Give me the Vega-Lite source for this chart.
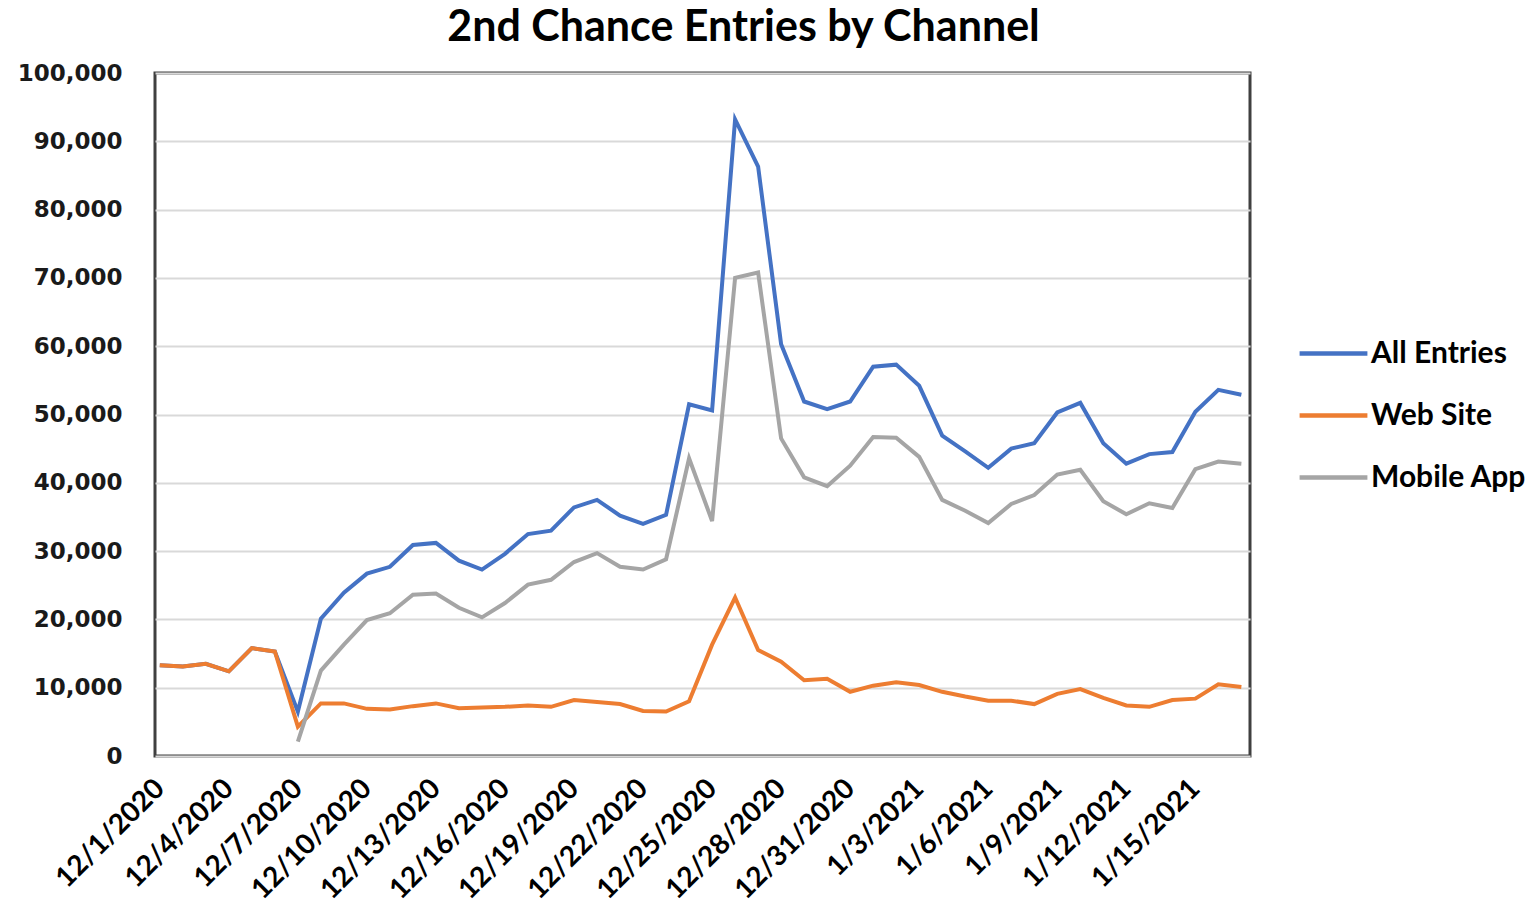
{
  "$schema": "https://vega.github.io/schema/vega-lite/v6.json",
  "width": 1095,
  "height": 683,
  "autosize": {"type": "none"},
  "padding": {"left": 155, "top": 73, "right": 281, "bottom": 159},
  "background": "white",
  "title": {"text": "2nd Chance Entries by Channel", "font": "Lato", "fontSize": 43, "fontWeight": "bold", "color": "#000000", "anchor": "middle", "offset": 12, "dx": 41},
  "config": {"view": {"stroke": "#404040", "strokeWidth": 3}},
  "data": {"values": [
    {"date": "2020-12-01T00:00:00", "All Entries": 13300, "Web Site": 13300, "Mobile App": null},
    {"date": "2020-12-02T00:00:00", "All Entries": 13100, "Web Site": 13100, "Mobile App": null},
    {"date": "2020-12-03T00:00:00", "All Entries": 13500, "Web Site": 13500, "Mobile App": null},
    {"date": "2020-12-04T00:00:00", "All Entries": 12400, "Web Site": 12400, "Mobile App": null},
    {"date": "2020-12-05T00:00:00", "All Entries": 15800, "Web Site": 15800, "Mobile App": null},
    {"date": "2020-12-06T00:00:00", "All Entries": 15300, "Web Site": 15300, "Mobile App": null},
    {"date": "2020-12-07T00:00:00", "All Entries": 6500, "Web Site": 4300, "Mobile App": 2100},
    {"date": "2020-12-08T00:00:00", "All Entries": 20100, "Web Site": 7700, "Mobile App": 12500},
    {"date": "2020-12-09T00:00:00", "All Entries": 23900, "Web Site": 7700, "Mobile App": 16300},
    {"date": "2020-12-10T00:00:00", "All Entries": 26700, "Web Site": 6900, "Mobile App": 19900},
    {"date": "2020-12-11T00:00:00", "All Entries": 27700, "Web Site": 6800, "Mobile App": 20900},
    {"date": "2020-12-12T00:00:00", "All Entries": 30900, "Web Site": 7300, "Mobile App": 23600},
    {"date": "2020-12-13T00:00:00", "All Entries": 31200, "Web Site": 7700, "Mobile App": 23800},
    {"date": "2020-12-14T00:00:00", "All Entries": 28600, "Web Site": 7000, "Mobile App": 21700},
    {"date": "2020-12-15T00:00:00", "All Entries": 27300, "Web Site": 7100, "Mobile App": 20300},
    {"date": "2020-12-16T00:00:00", "All Entries": 29600, "Web Site": 7200, "Mobile App": 22400},
    {"date": "2020-12-17T00:00:00", "All Entries": 32500, "Web Site": 7400, "Mobile App": 25100},
    {"date": "2020-12-18T00:00:00", "All Entries": 33000, "Web Site": 7200, "Mobile App": 25800},
    {"date": "2020-12-19T00:00:00", "All Entries": 36400, "Web Site": 8200, "Mobile App": 28400},
    {"date": "2020-12-20T00:00:00", "All Entries": 37500, "Web Site": 7900, "Mobile App": 29700},
    {"date": "2020-12-21T00:00:00", "All Entries": 35200, "Web Site": 7600, "Mobile App": 27700},
    {"date": "2020-12-22T00:00:00", "All Entries": 34000, "Web Site": 6600, "Mobile App": 27300},
    {"date": "2020-12-23T00:00:00", "All Entries": 35300, "Web Site": 6500, "Mobile App": 28800},
    {"date": "2020-12-24T00:00:00", "All Entries": 51500, "Web Site": 8000, "Mobile App": 43600},
    {"date": "2020-12-25T00:00:00", "All Entries": 50600, "Web Site": 16300, "Mobile App": 34400},
    {"date": "2020-12-26T00:00:00", "All Entries": 93200, "Web Site": 23200, "Mobile App": 70000},
    {"date": "2020-12-27T00:00:00", "All Entries": 86300, "Web Site": 15500, "Mobile App": 70800},
    {"date": "2020-12-28T00:00:00", "All Entries": 60300, "Web Site": 13800, "Mobile App": 46500},
    {"date": "2020-12-29T00:00:00", "All Entries": 51900, "Web Site": 11100, "Mobile App": 40800},
    {"date": "2020-12-30T00:00:00", "All Entries": 50800, "Web Site": 11300, "Mobile App": 39500},
    {"date": "2020-12-31T00:00:00", "All Entries": 51900, "Web Site": 9400, "Mobile App": 42500},
    {"date": "2021-01-01T00:00:00", "All Entries": 57000, "Web Site": 10300, "Mobile App": 46700},
    {"date": "2021-01-02T00:00:00", "All Entries": 57300, "Web Site": 10800, "Mobile App": 46600},
    {"date": "2021-01-03T00:00:00", "All Entries": 54200, "Web Site": 10400, "Mobile App": 43800},
    {"date": "2021-01-04T00:00:00", "All Entries": 46900, "Web Site": 9400, "Mobile App": 37500},
    {"date": "2021-01-05T00:00:00", "All Entries": 44600, "Web Site": 8700, "Mobile App": 35900},
    {"date": "2021-01-06T00:00:00", "All Entries": 42200, "Web Site": 8100, "Mobile App": 34100},
    {"date": "2021-01-07T00:00:00", "All Entries": 45000, "Web Site": 8100, "Mobile App": 36900},
    {"date": "2021-01-08T00:00:00", "All Entries": 45800, "Web Site": 7600, "Mobile App": 38200},
    {"date": "2021-01-09T00:00:00", "All Entries": 50300, "Web Site": 9100, "Mobile App": 41200},
    {"date": "2021-01-10T00:00:00", "All Entries": 51700, "Web Site": 9800, "Mobile App": 41900},
    {"date": "2021-01-11T00:00:00", "All Entries": 45800, "Web Site": 8500, "Mobile App": 37300},
    {"date": "2021-01-12T00:00:00", "All Entries": 42800, "Web Site": 7400, "Mobile App": 35400},
    {"date": "2021-01-13T00:00:00", "All Entries": 44200, "Web Site": 7200, "Mobile App": 37000},
    {"date": "2021-01-14T00:00:00", "All Entries": 44500, "Web Site": 8200, "Mobile App": 36300},
    {"date": "2021-01-15T00:00:00", "All Entries": 50400, "Web Site": 8400, "Mobile App": 42000},
    {"date": "2021-01-16T00:00:00", "All Entries": 53600, "Web Site": 10500, "Mobile App": 43100},
    {"date": "2021-01-17T00:00:00", "All Entries": 52900, "Web Site": 10100, "Mobile App": 42800}
  ]},
  "transform": [{"fold": ["All Entries", "Web Site", "Mobile App"], "as": ["channel", "entries"]}],
  "encoding": {
    "x": {
      "field": "date", "type": "temporal",
      "scale": {"domain": [{"year": 2020, "month": 11, "date": 30, "hours": 19}, {"year": 2021, "month": 1, "date": 17, "hours": 9}]},
      "axis": {
        "values": [
          {"year": 2020, "month": 12, "date": 1}, {"year": 2020, "month": 12, "date": 4}, {"year": 2020, "month": 12, "date": 7},
          {"year": 2020, "month": 12, "date": 10}, {"year": 2020, "month": 12, "date": 13}, {"year": 2020, "month": 12, "date": 16},
          {"year": 2020, "month": 12, "date": 19}, {"year": 2020, "month": 12, "date": 22}, {"year": 2020, "month": 12, "date": 25},
          {"year": 2020, "month": 12, "date": 28}, {"year": 2020, "month": 12, "date": 31}, {"year": 2021, "month": 1, "date": 3},
          {"year": 2021, "month": 1, "date": 6}, {"year": 2021, "month": 1, "date": 9}, {"year": 2021, "month": 1, "date": 12},
          {"year": 2021, "month": 1, "date": 15}
        ],
        "format": "%-m/%-d/%Y", "title": null, "grid": false, "ticks": false, "domain": false,
        "labelAngle": -45, "labelAlign": "right", "labelBaseline": "middle", "labelPadding": 28,
        "labelFont": "Lato", "labelFontSize": 28, "labelFontWeight": "bold", "labelColor": "#000000",
        "labelFlush": false, "labelOverlap": false, "labelBound": false
      }
    },
    "y": {
      "field": "entries", "type": "quantitative",
      "scale": {"domain": [0, 100000]},
      "axis": {
        "values": [0, 10000, 20000, 30000, 40000, 50000, 60000, 70000, 80000, 90000, 100000],
        "format": ",d", "title": null, "ticks": false, "domain": false,
        "gridColor": "#d9d9d9", "gridWidth": 2,
        "labelFont": "DejaVu Sans", "labelFontSize": 23, "labelFontWeight": "bold", "labelColor": "#1a1a1a",
        "labelPadding": 33
      }
    },
    "color": {
      "field": "channel", "type": "nominal",
      "scale": {"domain": ["All Entries", "Web Site", "Mobile App"], "range": ["#4472C4", "#ED7D31", "#A5A5A5"]},
      "legend": {
        "title": null, "orient": "none", "legendX": 1142, "legendY": 244,
        "symbolType": "stroke", "symbolSize": 4600, "symbolStrokeWidth": 4.5,
        "labelFont": "Lato", "labelFontSize": 30, "labelFontWeight": "bold", "labelColor": "#000000",
        "labelOffset": 1, "rowPadding": 10
      }
    }
  },
  "layer": [
    {"transform": [{"filter": {"field": "channel", "equal": "All Entries"}}], "mark": {"type": "line", "strokeWidth": 4}},
    {"transform": [{"filter": {"field": "channel", "equal": "Web Site"}}], "mark": {"type": "line", "strokeWidth": 4}},
    {"transform": [{"filter": {"field": "channel", "equal": "Mobile App"}}], "mark": {"type": "line", "strokeWidth": 4}}
  ]
}
